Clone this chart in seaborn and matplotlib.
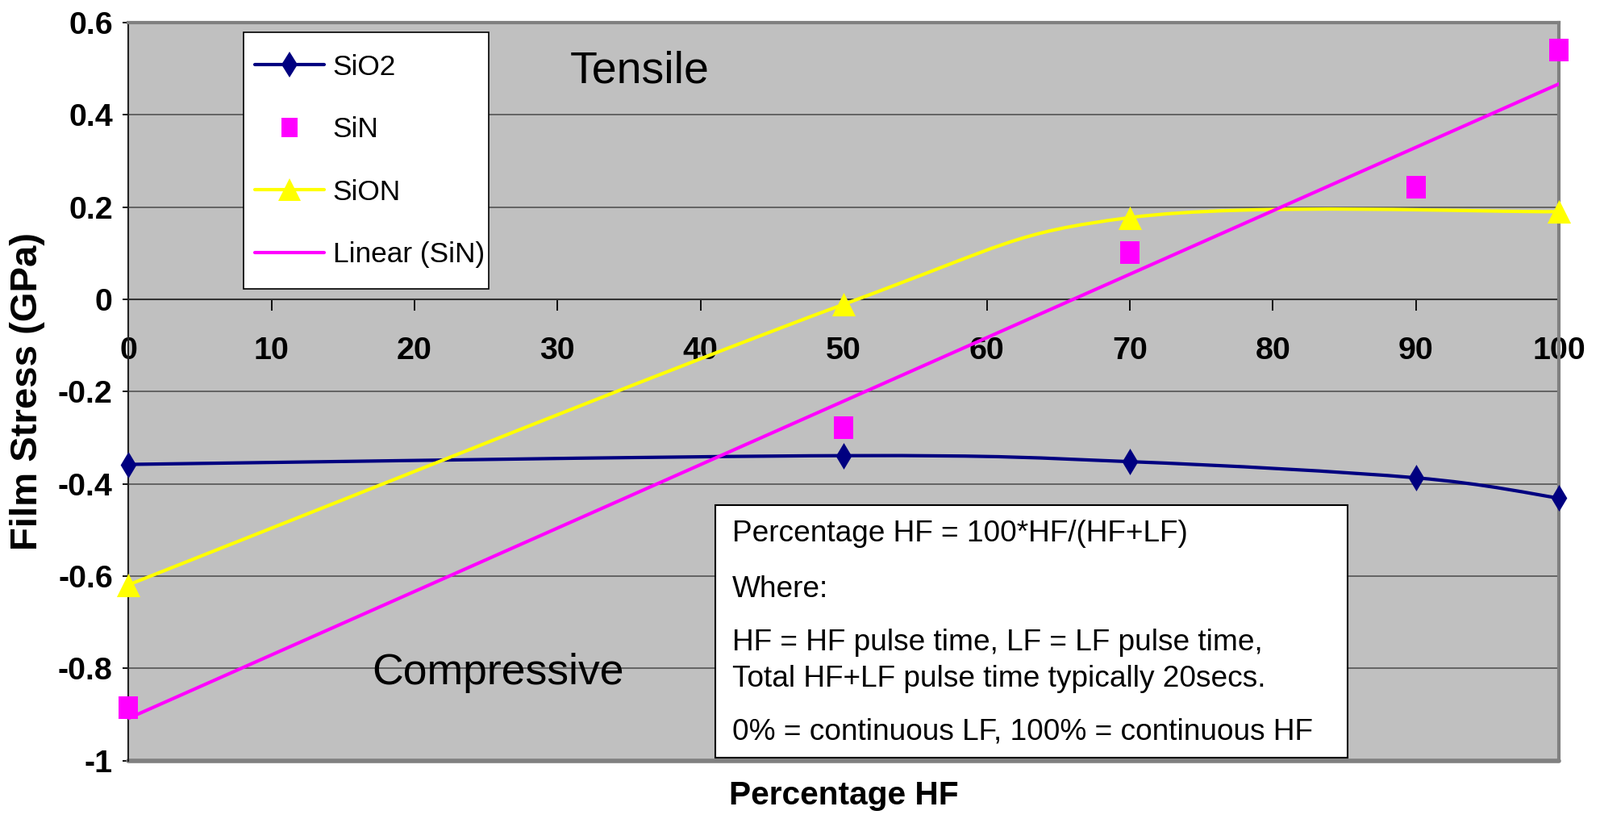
import numpy as np
import pandas as pd
import matplotlib
matplotlib.use("Agg")
import matplotlib.pyplot as plt
import seaborn as sns
from matplotlib.path import Path
from matplotlib.patches import PathPatch, Rectangle
from matplotlib.lines import Line2D
from matplotlib import font_manager as fm

# ---------------- data ----------------
pct_hf_sio2 = [0, 50, 70, 90, 100]
stress_sio2 = [-0.358, -0.339, -0.352, -0.387, -0.431]

pct_hf_sin = [0, 50, 70, 90, 100]
stress_sin = [-0.885, -0.279, 0.102, 0.243, 0.540]

pct_hf_sion = [0, 50, 70, 100]
stress_sion = [-0.619, -0.011, 0.177, 0.190]

x_ticks = [0, 10, 20, 30, 40, 50, 60, 70, 80, 90, 100]
y_ticks = [-1.0, -0.8, -0.6, -0.4, -0.2, 0.0, 0.2, 0.4, 0.6]
y_tick_labels = ["-1", "-0.8", "-0.6", "-0.4", "-0.2", "0", "0.2", "0.4", "0.6"]
series_labels = ["SiO2", "SiN", "SiON", "Linear (SiN)"]
x_label = "Percentage HF"
y_label = "Film Stress (GPa)"
note_lines = [
    "Percentage HF = 100*HF/(HF+LF)",
    "Where:",
    "HF = HF pulse time, LF = LF pulse time,",
    "Total HF+LF pulse time typically 20secs.",
    "0% = continuous LF, 100% = continuous HF",
]

# ---------------- style ----------------
sns.set_style("ticks")
names = {f.name for f in fm.fontManager.ttflist}
HAS_NARROW = "Liberation Sans Narrow" in names
NARROW = "Liberation Sans Narrow" if HAS_NARROW else "Liberation Sans"
WIDE = "Liberation Sans"
k = 1.0 if HAS_NARROW else 0.86   # width compensation when no condensed face exists
plt.rcParams["font.family"] = [NARROW, "DejaVu Sans"]
plt.rcParams.update({"text.color": "black", "axes.labelcolor": "black",
                     "xtick.color": "black", "ytick.color": "black"})

NAVY = "#000080"
MAGENTA = "#FF00FF"
YELLOW = "#FFFF00"
GRAY = "#808080"
LW = 3.0

fig = plt.figure(figsize=(19.84, 10.15), dpi=100)
ax = fig.add_axes([0.0803, 0.0713, 0.8940, 0.9013])
ax.set_facecolor("#C0C0C0")
ax.spines["bottom"].set_position(("data", 0))
ax.set_xlim(0, 100)
ax.set_ylim(-1, 0.6)


def smooth_path(xs, ys):
    P = np.column_stack([xs, ys]).astype(float)
    n = len(P)
    verts = [P[0]]
    codes = [Path.MOVETO]
    for i in range(n - 1):
        p0 = P[i - 1] if i > 0 else P[i]
        p1 = P[i]
        p2 = P[i + 1]
        p3 = P[i + 2] if i + 2 < n else P[i + 1]
        c1 = p1 + (p2 - p0) / 6.0
        c2 = p2 - (p3 - p1) / 6.0
        verts += [c1, c2, p2]
        codes += [Path.CURVE4] * 3
    return Path(verts, codes)


# SiO2 smoothed line + diamonds
ax.add_patch(PathPatch(smooth_path(pct_hf_sio2, stress_sio2), fill=False,
                       edgecolor=NAVY, lw=LW, zorder=3, capstyle="round"))
sns.scatterplot(x=pct_hf_sio2, y=stress_sio2, marker="d", s=280, color=NAVY,
                edgecolor=NAVY, linewidth=0, zorder=4, clip_on=False, ax=ax)

# SiN squares
rect_marker = [(-0.85, -1), (0.85, -1), (0.85, 1), (-0.85, 1), (-0.85, -1)]
sns.scatterplot(x=pct_hf_sin, y=stress_sin, marker=rect_marker, s=380, color=MAGENTA,
                edgecolor=MAGENTA, linewidth=0, zorder=5, clip_on=False, ax=ax)

# SiON smoothed line + triangles
ax.add_patch(PathPatch(smooth_path(pct_hf_sion, stress_sion), fill=False,
                       edgecolor=YELLOW, lw=LW, zorder=6, capstyle="round"))
sns.scatterplot(x=pct_hf_sion, y=stress_sion, marker="^", s=440, color=YELLOW,
                edgecolor=YELLOW, linewidth=0, zorder=7, clip_on=False, ax=ax)

# Linear trend for SiN
sns.regplot(x=pct_hf_sin, y=stress_sin, scatter=False, ci=None, truncate=True,
            line_kws=dict(color=MAGENTA, lw=LW, zorder=8), ax=ax)

# ---------------- axes ----------------
ax.set_xlim(0, 100)
ax.set_ylim(-1, 0.6)
ax.set_xticks(x_ticks)
ax.set_xticklabels([str(t) for t in x_ticks])
ax.set_yticks(y_ticks)
ax.set_yticklabels(y_tick_labels)
TICK_FS = 33 * k
ax.tick_params(axis="x", direction="out", length=10, width=1.3, pad=23.5,
               labelsize=TICK_FS, bottom=True, top=False)
ax.tick_params(axis="y", direction="out", length=5, width=1.3, pad=9,
               labelsize=TICK_FS, left=True, right=False)
for lab in ax.get_xticklabels() + ax.get_yticklabels():
    lab.set_fontfamily([NARROW, "DejaVu Sans"])
    lab.set_fontweight("bold")
    lab.set_fontsize(TICK_FS)

ax.yaxis.grid(True, color="#4a4a4a", lw=1.1)
ax.xaxis.grid(False)
ax.set_axisbelow(True)

ax.spines["bottom"].set_color("#333333")
ax.spines["bottom"].set_linewidth(1.5)
ax.spines["bottom"].set_zorder(2)
ax.spines["left"].set_color("#222222")
ax.spines["left"].set_linewidth(1.5)
for s in ("top", "right"):
    ax.spines[s].set_visible(True)
    ax.spines[s].set_color(GRAY)
    ax.spines[s].set_linewidth(3)
ax.axhline(-1, color=GRAY, lw=4, zorder=2, clip_on=False)

ax.set_xlabel(x_label, fontsize=34 * k, fontweight="bold", family=[NARROW, "DejaVu Sans"])
ax.xaxis.set_label_coords(0.5, -0.0471)
ax.xaxis.label.set_va("center")
ax.set_ylabel(y_label, fontsize=34, fontweight="bold", family=[WIDE, "DejaVu Sans"])
ax.yaxis.set_label_coords(-0.0707, 0.5007)
ax.yaxis.label.set_va("center")

# ---------------- annotations ----------------
ax.text(0.3572, 0.9335, "Tensile", transform=ax.transAxes, fontsize=40,
        family=[WIDE, "DejaVu Sans"], ha="center", va="center", zorder=10)
ax.text(0.2583, 0.1189, "Compressive", transform=ax.transAxes, fontsize=38.5,
        family=[WIDE, "DejaVu Sans"], ha="center", va="center", zorder=10)

ax.add_patch(Rectangle((0.4102, 0.0039), 0.4421, 0.3422, transform=ax.transAxes,
                       facecolor="white", edgecolor="black", lw=1.5, zorder=11))
note_y = [0.3070, 0.2324, 0.1592, 0.1106, 0.0387]
for txt, yy in zip(note_lines, note_y):
    ax.text(0.4221, yy, txt, transform=ax.transAxes, fontsize=31 * k,
            family=[NARROW, "DejaVu Sans"], ha="left", va="center", zorder=12)

# ---------------- legend ----------------
LEG_BOX = (0.0804, 0.639, 0.1714, 0.3477)   # x0, y0, w, h in axes fraction
ax.add_patch(Rectangle(LEG_BOX[:2], LEG_BOX[2], LEG_BOX[3], transform=ax.transAxes,
                       facecolor="white", edgecolor="black", lw=1.2, zorder=12))
LEG_FS = 29.5 * k
handles = [
    Line2D([], [], color=NAVY, lw=LW, marker="d", markersize=16.5, markeredgewidth=0),
    Line2D([], [], color=MAGENTA, lw=0, marker=rect_marker, markersize=17, markeredgewidth=0),
    Line2D([], [], color=YELLOW, lw=LW, marker="^", markersize=20, markeredgewidth=0),
    Line2D([], [], color=MAGENTA, lw=LW),
]
leg = ax.legend(handles, series_labels, loc="upper left",
                bbox_to_anchor=(LEG_BOX[0] + 0.0079, LEG_BOX[1] + LEG_BOX[3] - 0.0291),
                borderaxespad=0, frameon=False, borderpad=0, labelspacing=1.265,
                handlelength=2.45, handletextpad=0.3,
                prop={"family": [NARROW, "DejaVu Sans"], "size": LEG_FS})
leg.set_zorder(13)

fig.savefig("out.png", dpi=100, facecolor="white")
